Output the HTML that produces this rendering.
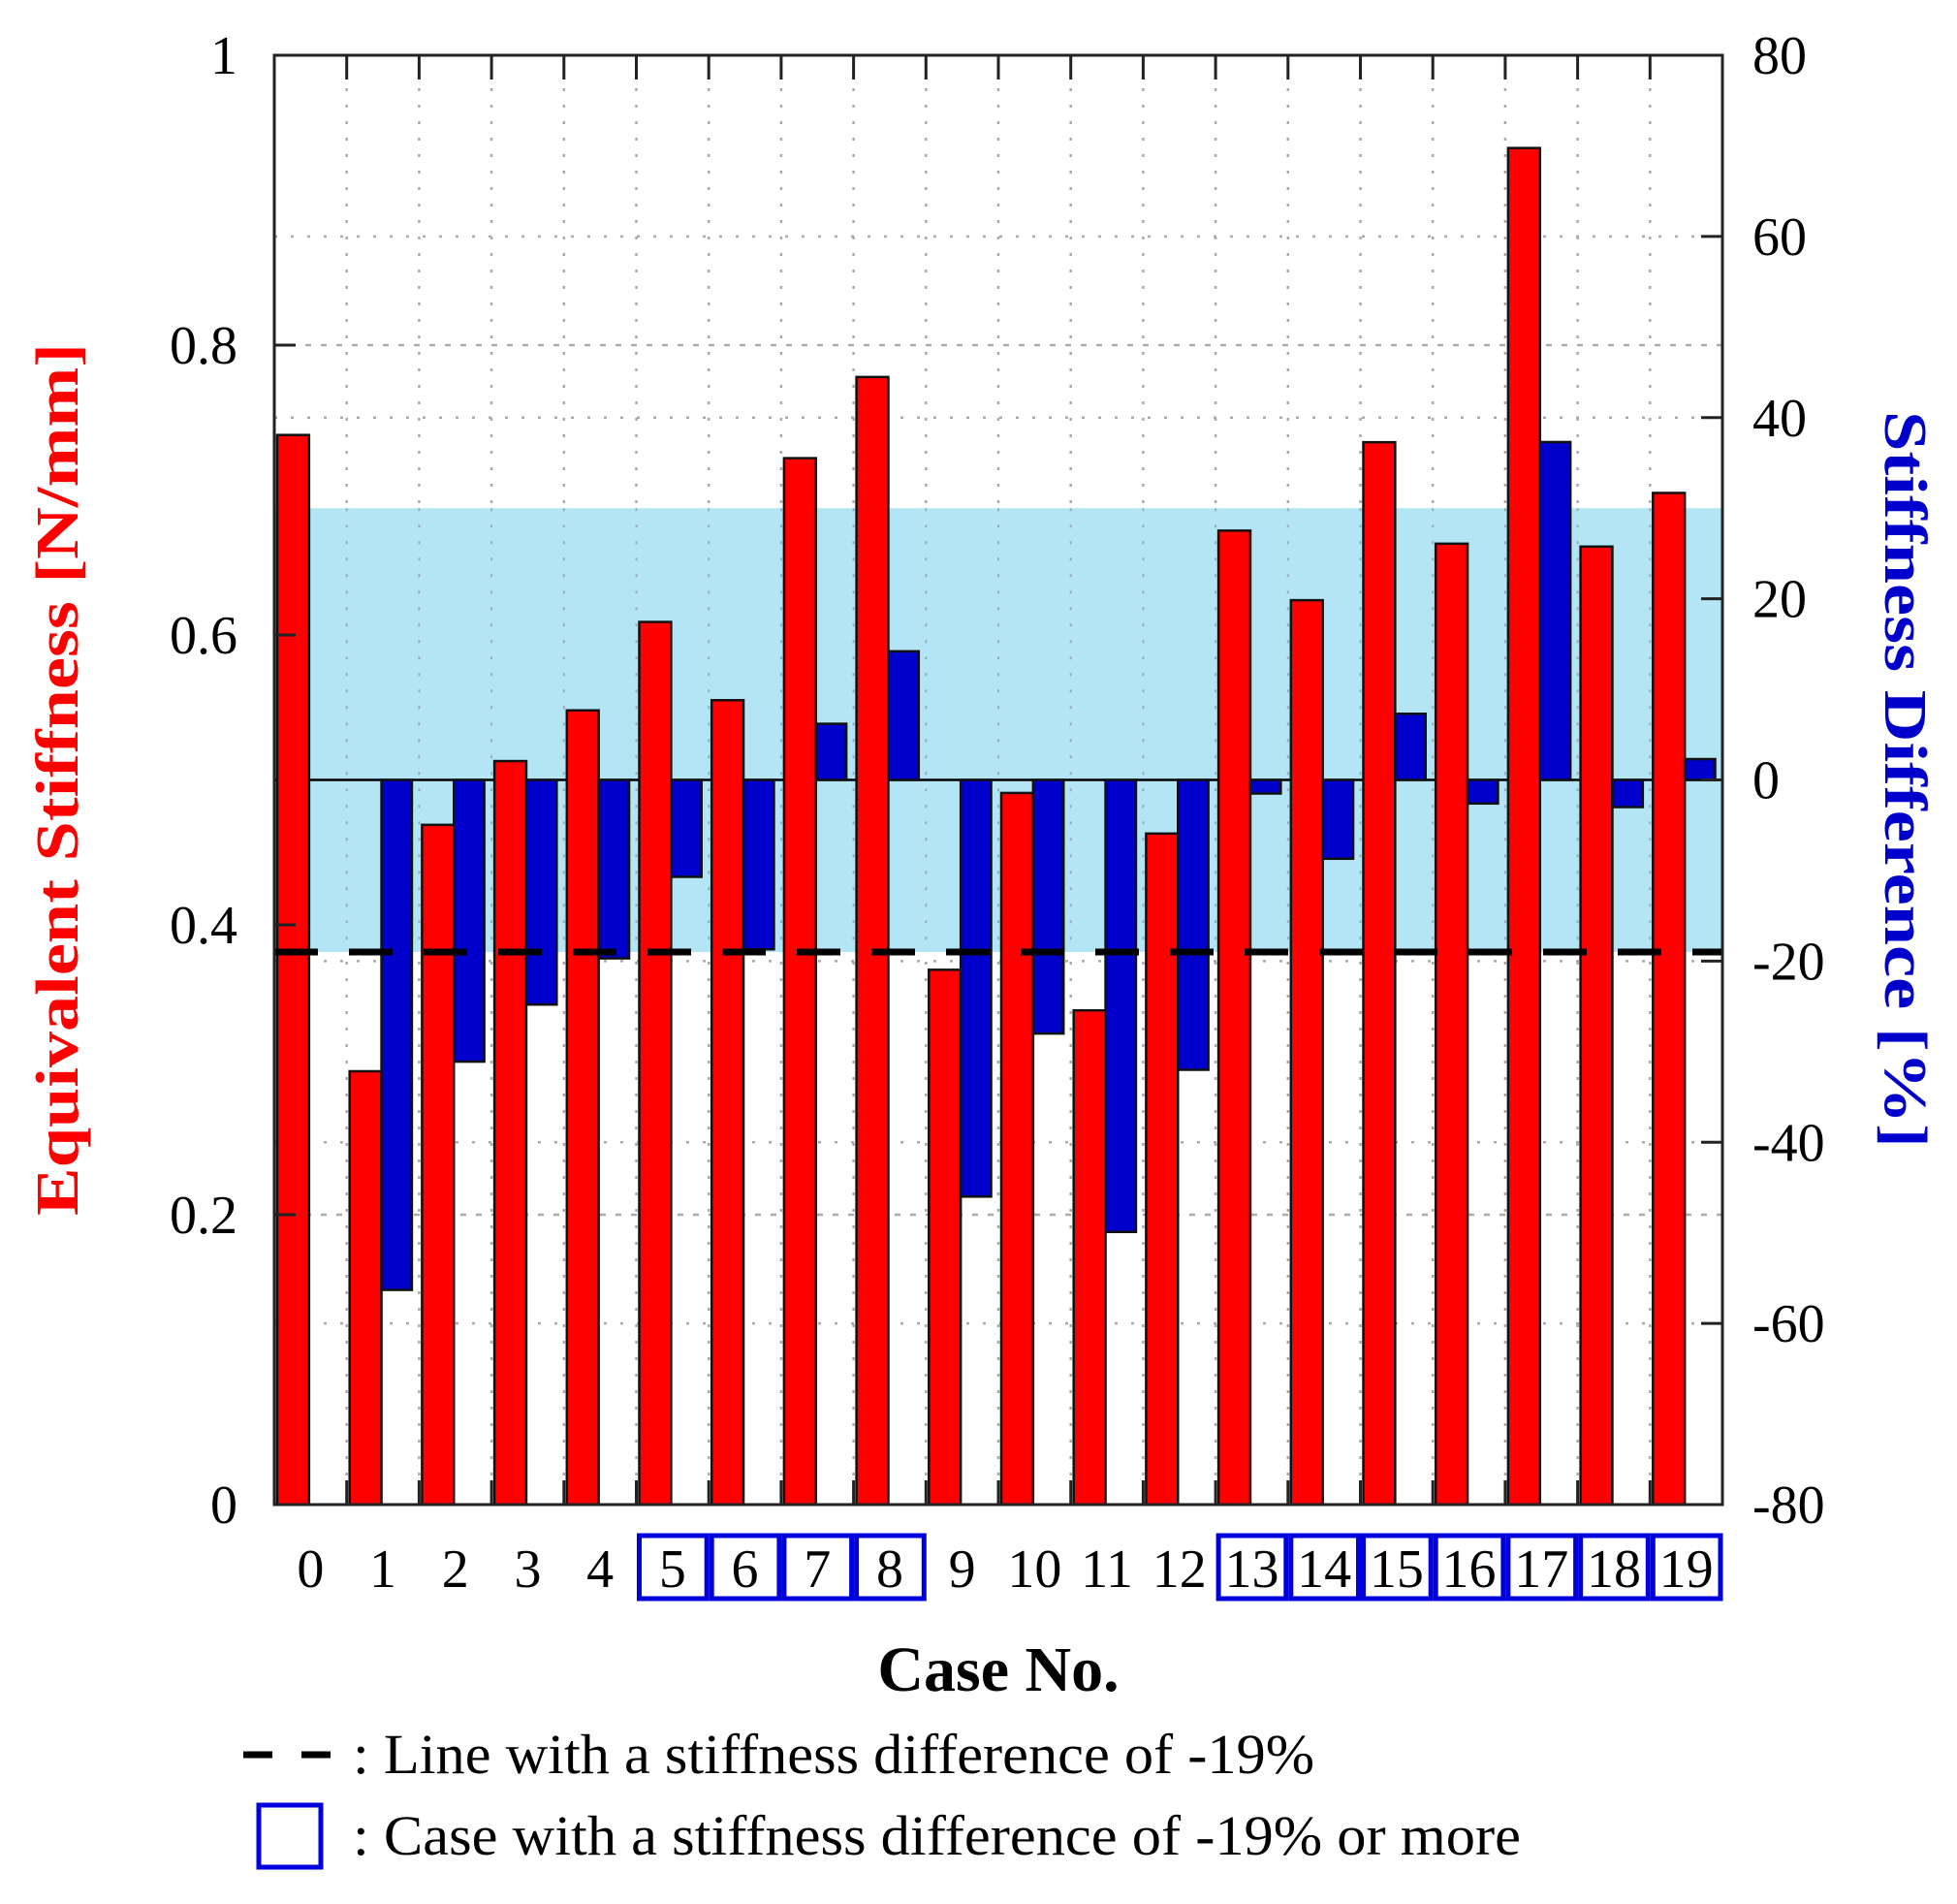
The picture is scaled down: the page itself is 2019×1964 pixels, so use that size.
<!DOCTYPE html>
<html><head><meta charset="utf-8"><style>
html,body{margin:0;padding:0;background:#fff;}
svg{display:block;font-family:"Liberation Serif",serif;}
</style></head><body>
<svg id="chart" width="2019" height="1964" viewBox="0 0 2019 1964" xmlns="http://www.w3.org/2000/svg">
<g id="grid"></g>
<g id="band"></g>
<g id="bars"></g>
<g id="axes"></g>
<text x="1030" y="1744" text-anchor="middle" font-size="66" font-weight="bold">Case No.</text>
<text transform="translate(80,804) rotate(-90)" text-anchor="middle" font-size="62" font-weight="bold" fill="#ff0000" textLength="900" lengthAdjust="spacingAndGlyphs">Equivalent Stiffness [N/mm]</text>
<text transform="translate(1945,804) rotate(90)" text-anchor="middle" font-size="62" font-weight="bold" fill="#0000cc" textLength="760" lengthAdjust="spacingAndGlyphs">Stiffness Difference [%]</text>
<g>
<line x1="251" y1="1810" x2="341" y2="1810" stroke="#000" stroke-width="7" stroke-dasharray="30,30"/>
<text x="364" y="1829" font-size="58" textLength="992" lengthAdjust="spacingAndGlyphs">: Line with a stiffness difference of -19%</text>
<rect x="267" y="1862" width="64" height="64" fill="none" stroke="#0000dd" stroke-width="5"/>
<text x="364" y="1913" font-size="58" textLength="1205" lengthAdjust="spacingAndGlyphs">: Case with a stiffness difference of -19% or more</text>
</g>
</svg>
<script>
const categories=["0","1","2","3","4","5","6","7","8","9","10","11","12","13","14","15","16","17","18","19"];
const stiffness=[0.738,0.299,0.469,0.513,0.548,0.609,0.555,0.722,0.778,0.369,0.491,0.341,0.463,0.672,0.624,0.733,0.663,0.936,0.661,0.698];
const difference=[0,-56.3,-31.1,-24.8,-19.7,-10.7,-18.7,6.2,14.2,-46,-28,-49.9,-32,-1.5,-8.7,7.3,-2.6,37.3,-3,2.3];
const boxed=[5,6,7,8,13,14,15,16,17,18,19];
const leftTicks=[0,0.2,0.4,0.6,0.8,1];
const leftTickLabels=["0","0.2","0.4","0.6","0.8","1"];
const rightTicks=[-80,-60,-40,-20,0,20,40,60,80];
const bandRange=[-19,30];
const thresholdLine=-19;

const NS="http://www.w3.org/2000/svg";
const L=283,R=1777,T=57,B=1552;
const cw=(R-L)/categories.length;
const yL=v=>B-(v-0)/(1-0)*(B-T);
const yR=v=>B-(v+80)/160*(B-T);
const xC=i=>L+i*cw;
function mk(tag,attrs,parent){const e=document.createElementNS(NS,tag);for(const k in attrs)e.setAttribute(k,attrs[k]);parent.appendChild(e);return e;}
const grid=document.getElementById('grid'),band=document.getElementById('band'),bars=document.getElementById('bars'),axes=document.getElementById('axes');

for(let i=1;i<categories.length;i++){
  const l=mk('line',{x1:xC(i),x2:xC(i),y1:T,y2:B,stroke:'#aaa','stroke-width':2.5,'stroke-dasharray':'3,14'},grid);
  
  
}
leftTicks.forEach(v=>{if(v>0&&v<1){const l=mk('line',{x1:L,x2:R,y1:yL(v),y2:yL(v),stroke:'#aaa','stroke-width':2.5,'stroke-dasharray':'6,10'},grid);
  
  }});
rightTicks.forEach(v=>{if(v>-80&&v<80&&v!==0){const l=mk('line',{x1:L,x2:R,y1:yR(v),y2:yR(v),stroke:'#aaa','stroke-width':2.5,'stroke-dasharray':'3,14'},grid);
  
  }});

const bd=mk('rect',{x:L,y:yR(bandRange[1]),width:R-L,height:yR(bandRange[0])-yR(bandRange[1]),fill:'#b3e5f5'},band);


for(let i=1;i<categories.length;i++){
  const l=mk('line',{x1:xC(i),x2:xC(i),y1:yR(bandRange[1]),y2:yR(bandRange[0]),stroke:'#9ab','stroke-width':2,'stroke-dasharray':'3,14'},band);
  
  
}

const zl=mk('line',{x1:L,x2:R,y1:yR(0),y2:yR(0),stroke:'#000','stroke-width':2.5},bars);



categories.forEach((c,i)=>{
  const x0=xC(i);
  const r=mk('rect',{x:x0+cw*0.04,y:yL(stiffness[i]),width:cw*0.44,height:yL(0)-yL(stiffness[i]),fill:'#ff0000',stroke:'#111','stroke-width':2.5},bars);
  
  
  const d=difference[i];
  if(d!==0){
    const y1=Math.min(yR(d),yR(0)),h=Math.abs(yR(d)-yR(0));
    const b=mk('rect',{x:x0+cw*0.48,y:y1,width:cw*0.42,height:h,fill:'#0000cc',stroke:'#111','stroke-width':2.5},bars);
    
    
  }
});

const th=mk('line',{x1:L,x2:R,y1:yR(thresholdLine),y2:yR(thresholdLine),stroke:'#000','stroke-width':7,'stroke-dasharray':'45,32'},bars);



const fr=mk('rect',{x:L,y:T,width:R-L,height:B-T,fill:'none',stroke:'#222','stroke-width':3},axes);


for(let i=1;i<categories.length;i++){
  const t=mk('line',{x1:xC(i),x2:xC(i),y1:T,y2:T+25,stroke:'#222','stroke-width':3},axes);
  
  
  const t2=mk('line',{x1:xC(i),x2:xC(i),y1:B,y2:B-25,stroke:'#222','stroke-width':3},axes);
  
  
}
leftTicks.forEach((v,k)=>{
  const t=mk('line',{x1:L,x2:L+22,y1:yL(v),y2:yL(v),stroke:'#222','stroke-width':3},axes);
  
  
  const tx=mk('text',{x:245,y:yL(v)+19,'text-anchor':'end','font-size':56},axes);
  tx.textContent=leftTickLabels[k];
  
  
});
rightTicks.forEach(v=>{
  const t=mk('line',{x1:R-22,x2:R,y1:yR(v),y2:yR(v),stroke:'#222','stroke-width':3},axes);
  
  
  const tx=mk('text',{x:1808,y:yR(v)+19,'text-anchor':'start','font-size':56},axes);
  tx.textContent=String(v);
  
  
});
categories.forEach((c,i)=>{
  const cx=xC(i)+cw/2;
  if(boxed.includes(i)){
    const b=mk('rect',{x:xC(i)+3,y:1584,width:cw-5,height:65,fill:'none',stroke:'#0000dd','stroke-width':5},axes);
    
    
  }
  const tx=mk('text',{x:cx,y:1637,'text-anchor':'middle','font-size':56},axes);
  tx.textContent=c;
  
  
});
</script>
</body></html>
